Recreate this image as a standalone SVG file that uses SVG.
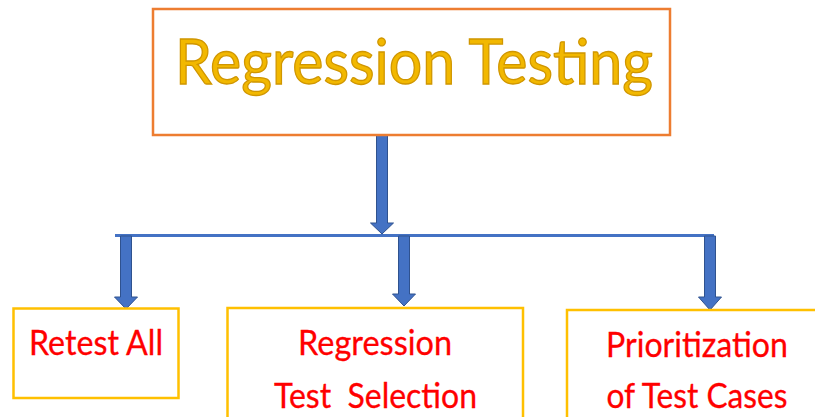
<svg xmlns="http://www.w3.org/2000/svg" width="815" height="417" viewBox="0 0 815 417">
<style>
.top{fill:#ffffff;stroke:#ED7D31;stroke-width:2.5}
.sub{fill:#ffffff;stroke:#FFC000;stroke-width:2.5}
.title{font-family:Lato,"Open Sans","Liberation Sans",sans-serif;font-size:61px;fill:#F2B800;stroke:#D09600;stroke-width:1.3;text-anchor:middle}
.lbl{font-family:Lato,"Open Sans","Liberation Sans",sans-serif;font-size:34px;fill:#FF0000;stroke:#FF0000;stroke-width:0.3;text-anchor:middle;white-space:pre}
.arr{fill:#4472C4;stroke:#2F528F;stroke-width:1}
.bar{stroke:#4472C4;stroke-width:3;fill:none}
</style>
<g id="connectors">
<line class="bar" x1="115" y1="235.5" x2="714" y2="235.5"/>
<path class="arr" d="M376.5,135 H387.5 V223 H393.5 L382,234 L370.5,223 H376.5 Z"/>
<path class="arr" d="M120.5,236 H131.5 V297 H137.5 L126,309 L114.5,297 H120.5 Z"/>
<path class="arr" d="M398.5,236 H409.5 V294 H415.5 L404,306 L392.5,294 H398.5 Z"/>
<path class="arr" d="M704.5,236 H715.5 V297 H721.5 L710,310 L698.5,297 H704.5 Z"/>
</g>
<g id="regression-testing">
<rect class="top" x="153" y="9" width="517" height="126"/>
<text class="title" x="414" y="84" textLength="478" lengthAdjust="spacingAndGlyphs">Regression Testing</text>
</g>
<g id="retest-all">
<rect class="sub" x="13.5" y="308.5" width="165" height="89.5"/>
<text class="lbl" x="96" y="355" textLength="134" lengthAdjust="spacingAndGlyphs">Retest All</text>
</g>
<g id="regression-test-selection">
<rect class="sub" x="227.5" y="308" width="295.5" height="130"/>
<text class="lbl" x="375" y="355" textLength="154" lengthAdjust="spacingAndGlyphs">Regression</text>
<text class="lbl" x="375.5" y="408" textLength="203" lengthAdjust="spacingAndGlyphs">Test  Selection</text>
</g>
<g id="prioritization">
<rect class="sub" x="567" y="310" width="270" height="130"/>
<text class="lbl" x="697" y="357" textLength="182" lengthAdjust="spacingAndGlyphs">Prioritization</text>
<text class="lbl" x="697" y="408" textLength="181" lengthAdjust="spacingAndGlyphs">of Test Cases</text>
</g>
</svg>
